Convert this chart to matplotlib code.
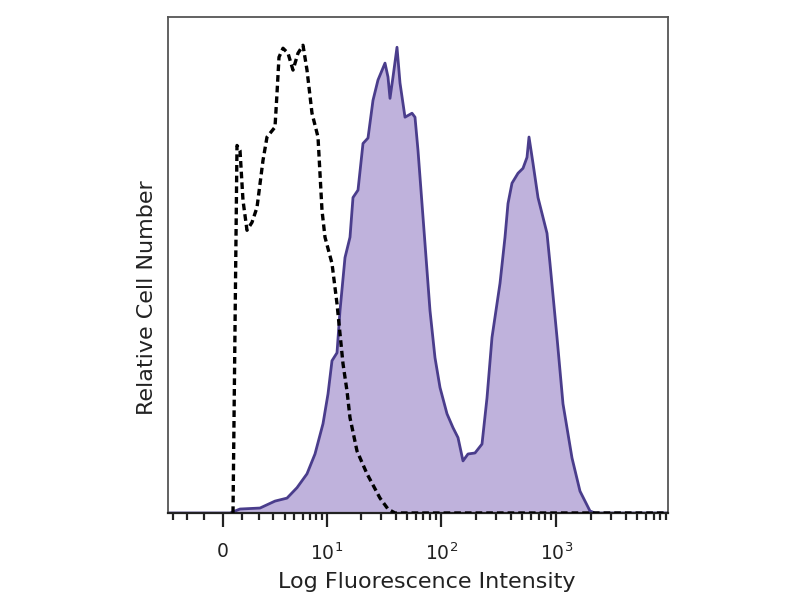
import numpy as np
import matplotlib
matplotlib.use("Agg")
import matplotlib.pyplot as plt

# ---- data (x in display channels 0-1000, y in % of max scale) ----
stained_ch = [0, 124, 144, 184, 214, 238, 258, 278, 294, 310, 320, 328, 338, 344, 354, 364,
              370, 380, 390, 400, 410, 420, 434, 440, 444, 450, 458, 464, 474, 488, 494, 500,
              514, 524, 534, 544, 558, 570, 580, 590, 600, 614, 628, 638, 648, 664, 674, 680,
              688, 700, 710, 718, 722, 730, 740, 758, 764, 778, 790, 808, 824, 844, 854, 1000]
stained_y = [0, 0, 0.8, 1.0, 2.4, 3.0, 5.1, 7.9, 11.9, 18.0, 24.0, 30.7, 32.3, 40.8, 51.5, 55.6,
             63.6, 65.1, 74.5, 75.6, 83.2, 87.3, 90.7, 87.9, 83.6, 87.9, 93.9, 86.7, 79.8, 80.6, 79.8, 73.1,
             54.3, 40.8, 31.3, 25.3, 20.0, 17.2, 15.2, 10.5, 11.9, 12.1, 13.9, 23.2, 35.4, 46.3, 55.6, 62.4,
             66.5, 68.5, 69.5, 71.7, 75.8, 70.5, 63.6, 56.4, 50.3, 35.4, 22.0, 11.1, 4.4, 0.4, 0, 0]

control_ch = [130, 138, 144, 150, 158, 168, 178, 190, 198, 214, 218, 222, 230, 240, 250, 260,
              270, 278, 288, 300, 308, 314, 328, 338, 350, 358, 364, 378, 398, 424, 440, 454, 1000]
control_y = [0, 74.1, 73.1, 63.0, 57.0, 58.6, 61.6, 71.1, 75.8, 77.8, 84.6, 91.9, 93.7, 92.7, 89.3, 92.7,
             94.3, 89.3, 80.6, 75.8, 61.0, 55.6, 50.3, 42.2, 30.1, 24.6, 19.2, 12.5, 7.9, 3.0, 0.8, 0, 0]

major_values = [0, 10, 100, 1000]
major_labels = ["0", "$10^1$", "$10^2$", "$10^3$"]
mid_values = [-1, 1]
minor_values = [-3, -2, 2, 3, 4, 5, 6, 7, 8, 9,
                20, 30, 40, 50, 60, 70, 80, 90,
                200, 300, 400, 500, 600, 700, 800, 900,
                2000, 3000, 4000, 5000, 6000, 7000, 8000, 9000]


def to_channel(v):
    # biexponential-like display transform of the cytometry axis
    return 110 + 100 * np.arcsinh(np.asarray(v, dtype=float) / 2.54)


fig = plt.figure(figsize=(8, 6), dpi=100)
ax = fig.add_axes([168 / 800, 1 - 513 / 600, 500 / 800, 496 / 600])

ax.fill_between(stained_ch, stained_y, 0, color="#bfb2dc", lw=0, zorder=1)
ax.plot(stained_ch, stained_y, color="#4a3d8c", lw=2.0, zorder=2, solid_joinstyle="round")
ax.plot(control_ch, control_y, color="black", lw=2.4, linestyle=(0, (2.0, 1.2)), zorder=3)

ax.set_xlim(0, 1000)
ax.set_ylim(0, 100)
ax.set_yticks([])

ax.set_xticks(to_channel(major_values))
ax.set_xticklabels(major_labels)
ax.set_xticks(list(to_channel(mid_values)) + list(to_channel(minor_values)), minor=True)
ax.tick_params(axis="x", which="major", direction="out", length=10, width=1.6,
               labelsize=13.5, pad=11, colors="#222222")
ax.tick_params(axis="x", which="minor", direction="out", length=5, width=1.6, colors="#222222")

for s in ["left", "top", "right"]:
    ax.spines[s].set_color("#555555")
    ax.spines[s].set_linewidth(1.3)
ax.spines["bottom"].set_color("#222222")
ax.spines["bottom"].set_linewidth(1.6)

ax.set_xlabel("Log Fluorescence Intensity", fontsize=16, color="#222222")
ax.xaxis.set_label_coords(0.518, -0.118)
ax.set_ylabel("Relative Cell Number", fontsize=16, color="#222222")
ax.yaxis.set_label_coords(-0.022, 0.435)

fig.savefig("out.png", dpi=100)
